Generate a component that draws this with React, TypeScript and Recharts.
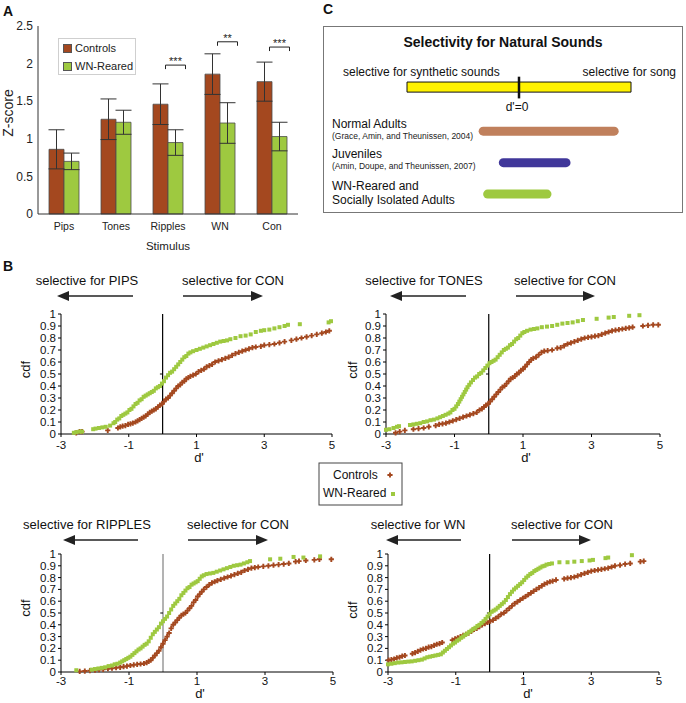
import React from "react";
import {
  Bar,
  ComposedChart,
  ErrorBar,
  LabelList,
  Legend,
  Line,
  ReferenceArea,
  ReferenceLine,
  Scatter,
  ScatterChart,
  XAxis,
  YAxis
} from "recharts";

const FONT = "'Liberation Sans', Arial, Helvetica, sans-serif";
const BROWN = "#a4481f";
const GREEN = "#9ec940";

// ---- panel A: mean z-scores ----
const stimuli = ["Pips", "Tones", "Ripples", "WN", "Con"];
const controlsZ = [0.86, 1.26, 1.46, 1.86, 1.76];
const controlsSem = [0.26, 0.27, 0.27, 0.27, 0.26];
const rearedZ = [0.7, 1.22, 0.95, 1.21, 1.03];
const rearedSem = [0.11, 0.16, 0.17, 0.27, 0.19];
const sigStars = ["", "", "***", "**", "***"];
const sigLevel = [0, 0, 1.98, 2.29, 2.22];
const zTicks = [0, 0.5, 1, 1.5, 2, 2.5];

// ---- panel B: cdf of d' (d', cdf) ----
const dTicks = [-3, -1, 1, 3, 5];
const cdfTicks = [0, 0.1, 0.2, 0.3, 0.4, 0.5, 0.6, 0.7, 0.8, 0.9, 1];

const pipsControls: [number, number][] = [
  [-2.55, 0.01], [-2.45, 0.02], [-2.38, 0.02], [-1.62, 0.03], [-1.32, 0.05], [-1.25, 0.06], [-1.18, 0.065],
  [-1.1, 0.07], [-1.02, 0.08], [-0.95, 0.085], [-0.88, 0.09], [-0.8, 0.1], [-0.74, 0.11], [-0.68, 0.12],
  [-0.62, 0.13], [-0.56, 0.14], [-0.5, 0.15], [-0.44, 0.165], [-0.38, 0.18], [-0.32, 0.19], [-0.26, 0.2],
  [-0.2, 0.21], [-0.14, 0.225], [-0.08, 0.24], [-0.02, 0.25], [0.04, 0.27], [0.1, 0.29], [0.16, 0.3],
  [0.22, 0.32], [0.28, 0.34], [0.34, 0.36], [0.4, 0.38], [0.46, 0.4], [0.52, 0.41], [0.58, 0.43],
  [0.64, 0.44], [0.7, 0.46], [0.76, 0.47], [0.82, 0.48], [0.9, 0.49], [0.98, 0.5], [1.06, 0.52],
  [1.14, 0.53], [1.22, 0.54], [1.3, 0.56], [1.38, 0.57], [1.46, 0.58], [1.55, 0.6], [1.65, 0.61],
  [1.75, 0.62], [1.85, 0.63], [1.95, 0.64], [2.05, 0.655], [2.15, 0.67], [2.25, 0.68], [2.35, 0.69],
  [2.45, 0.7], [2.55, 0.71], [2.65, 0.72], [2.75, 0.725], [2.9, 0.73], [3.0, 0.74], [3.15, 0.745],
  [3.3, 0.75], [3.45, 0.76], [3.6, 0.77], [3.8, 0.78], [3.95, 0.79], [4.1, 0.8], [4.25, 0.81],
  [4.4, 0.82], [4.55, 0.83], [4.7, 0.84], [4.82, 0.85], [4.92, 0.86]
];
const pipsReared: [number, number][] = [
  [-2.62, 0.01], [-2.55, 0.015], [-2.45, 0.02], [-2.38, 0.02], [-2.05, 0.04], [-1.98, 0.045], [-1.88, 0.05],
  [-1.78, 0.055], [-1.68, 0.06], [-1.55, 0.07], [-1.45, 0.09], [-1.4, 0.1], [-1.34, 0.12], [-1.28, 0.13],
  [-1.22, 0.15], [-1.16, 0.16], [-1.1, 0.17], [-1.04, 0.18], [-0.98, 0.2], [-0.92, 0.21], [-0.86, 0.23],
  [-0.8, 0.25], [-0.74, 0.26], [-0.68, 0.28], [-0.62, 0.29], [-0.56, 0.31], [-0.5, 0.32], [-0.44, 0.33],
  [-0.38, 0.34], [-0.32, 0.35], [-0.26, 0.36], [-0.2, 0.38], [-0.14, 0.39], [-0.08, 0.4], [-0.02, 0.42],
  [0.04, 0.44], [0.1, 0.47], [0.16, 0.49], [0.22, 0.51], [0.28, 0.52], [0.34, 0.54], [0.4, 0.56],
  [0.46, 0.58], [0.52, 0.6], [0.58, 0.62], [0.64, 0.64], [0.7, 0.65], [0.76, 0.67], [0.82, 0.68],
  [0.9, 0.69], [1.0, 0.7], [1.1, 0.71], [1.2, 0.72], [1.3, 0.73], [1.4, 0.74], [1.5, 0.75], [1.6, 0.76],
  [1.7, 0.77], [1.8, 0.775], [1.9, 0.78], [2.0, 0.79], [2.15, 0.8], [2.3, 0.815], [2.45, 0.82],
  [2.6, 0.83], [2.75, 0.85], [2.9, 0.86], [3.0, 0.865], [3.15, 0.87], [3.3, 0.88], [3.45, 0.89],
  [3.6, 0.9], [3.7, 0.91], [4.05, 0.915], [4.9, 0.93], [4.97, 0.94]
];
const tonesControls: [number, number][] = [
  [-2.72, 0.01], [-2.6, 0.02], [-2.45, 0.03], [-2.2, 0.04], [-2.05, 0.045], [-1.9, 0.05], [-1.75, 0.06],
  [-1.55, 0.07], [-1.45, 0.08], [-1.35, 0.085], [-1.25, 0.09], [-1.15, 0.1], [-1.05, 0.11], [-0.95, 0.12],
  [-0.85, 0.13], [-0.75, 0.14], [-0.65, 0.15], [-0.55, 0.16], [-0.45, 0.17], [-0.35, 0.18], [-0.27, 0.2],
  [-0.2, 0.21], [-0.14, 0.225], [-0.08, 0.24], [-0.02, 0.25], [0.04, 0.27], [0.1, 0.29], [0.16, 0.31],
  [0.22, 0.33], [0.28, 0.35], [0.34, 0.37], [0.4, 0.39], [0.46, 0.4], [0.52, 0.42], [0.58, 0.44],
  [0.64, 0.46], [0.7, 0.47], [0.76, 0.48], [0.82, 0.5], [0.88, 0.51], [0.94, 0.53], [1.0, 0.54],
  [1.06, 0.56], [1.12, 0.58], [1.18, 0.6], [1.24, 0.62], [1.3, 0.63], [1.38, 0.64], [1.46, 0.66],
  [1.54, 0.68], [1.62, 0.69], [1.72, 0.695], [1.85, 0.7], [2.0, 0.715], [2.1, 0.72], [2.2, 0.735],
  [2.3, 0.75], [2.4, 0.76], [2.5, 0.77], [2.6, 0.78], [2.7, 0.79], [2.8, 0.8], [2.9, 0.805], [3.0, 0.81],
  [3.1, 0.815], [3.2, 0.82], [3.3, 0.83], [3.4, 0.84], [3.5, 0.85], [3.6, 0.86], [3.7, 0.865],
  [3.8, 0.87], [3.9, 0.875], [4.0, 0.88], [4.1, 0.885], [4.2, 0.89], [4.5, 0.9], [4.65, 0.905],
  [4.8, 0.91], [4.95, 0.91]
];
const tonesReared: [number, number][] = [
  [-3.0, 0.035], [-2.9, 0.04], [-2.78, 0.05], [-2.68, 0.06], [-2.62, 0.065], [-2.3, 0.075], [-2.2, 0.08],
  [-2.1, 0.085], [-2.0, 0.09], [-1.9, 0.1], [-1.8, 0.105], [-1.7, 0.115], [-1.6, 0.12], [-1.5, 0.13],
  [-1.42, 0.14], [-1.34, 0.15], [-1.26, 0.16], [-1.18, 0.17], [-1.12, 0.18], [-1.06, 0.2], [-1.0, 0.21],
  [-0.95, 0.23], [-0.9, 0.25], [-0.86, 0.27], [-0.82, 0.29], [-0.78, 0.31], [-0.74, 0.33], [-0.7, 0.35],
  [-0.66, 0.37], [-0.62, 0.39], [-0.57, 0.41], [-0.52, 0.43], [-0.46, 0.45], [-0.4, 0.47], [-0.34, 0.48],
  [-0.28, 0.5], [-0.22, 0.51], [-0.16, 0.53], [-0.1, 0.55], [-0.04, 0.57], [0.02, 0.59], [0.08, 0.6],
  [0.14, 0.61], [0.2, 0.62], [0.26, 0.64], [0.32, 0.66], [0.38, 0.68], [0.44, 0.7], [0.5, 0.71],
  [0.56, 0.72], [0.62, 0.74], [0.68, 0.75], [0.74, 0.77], [0.8, 0.79], [0.86, 0.8], [0.92, 0.82],
  [0.98, 0.84], [1.04, 0.85], [1.12, 0.86], [1.22, 0.87], [1.32, 0.875], [1.42, 0.88], [1.55, 0.89],
  [1.7, 0.895], [1.85, 0.9], [2.0, 0.91], [2.15, 0.92], [2.3, 0.925], [2.45, 0.93], [2.6, 0.94],
  [2.75, 0.95], [3.15, 0.96], [3.5, 0.97], [3.65, 0.975], [4.1, 0.985], [4.4, 0.99]
];
const ripplesControls: [number, number][] = [
  [-2.45, 0.005], [-2.3, 0.008], [-2.15, 0.012], [-2.0, 0.015], [-1.88, 0.02], [-1.76, 0.022], [-1.62, 0.028],
  [-1.5, 0.032], [-1.38, 0.036], [-1.26, 0.04], [-1.16, 0.045], [-1.06, 0.05], [-0.96, 0.055], [-0.86, 0.06],
  [-0.76, 0.065], [-0.66, 0.068], [-0.56, 0.072], [-0.48, 0.08], [-0.42, 0.09], [-0.36, 0.1], [-0.3, 0.12],
  [-0.24, 0.14], [-0.18, 0.16], [-0.12, 0.18], [-0.06, 0.21], [0.0, 0.24], [0.06, 0.27], [0.12, 0.3],
  [0.18, 0.33], [0.24, 0.37], [0.3, 0.4], [0.36, 0.42], [0.42, 0.44], [0.48, 0.46], [0.54, 0.48],
  [0.6, 0.49], [0.66, 0.5], [0.72, 0.52], [0.78, 0.54], [0.84, 0.56], [0.9, 0.59], [0.96, 0.61],
  [1.02, 0.64], [1.08, 0.66], [1.14, 0.68], [1.2, 0.7], [1.28, 0.72], [1.36, 0.74], [1.44, 0.755],
  [1.52, 0.765], [1.6, 0.775], [1.7, 0.785], [1.8, 0.795], [1.9, 0.805], [2.0, 0.815], [2.1, 0.825],
  [2.2, 0.835], [2.3, 0.845], [2.4, 0.86], [2.5, 0.87], [2.6, 0.88], [2.7, 0.885], [2.8, 0.89],
  [2.95, 0.895], [3.1, 0.9], [3.25, 0.905], [3.4, 0.91], [3.55, 0.915], [3.7, 0.92], [3.9, 0.935],
  [4.0, 0.94], [4.2, 0.945], [4.45, 0.95], [4.6, 0.955], [4.95, 0.955]
];
const ripplesReared: [number, number][] = [
  [-2.55, 0.015], [-2.1, 0.02], [-2.0, 0.025], [-1.9, 0.03], [-1.8, 0.035], [-1.7, 0.04], [-1.6, 0.05],
  [-1.5, 0.055], [-1.42, 0.065], [-1.34, 0.07], [-1.26, 0.08], [-1.2, 0.09], [-1.14, 0.1], [-1.08, 0.11],
  [-1.02, 0.12], [-0.96, 0.13], [-0.9, 0.145], [-0.84, 0.16], [-0.78, 0.175], [-0.72, 0.19], [-0.66, 0.2],
  [-0.6, 0.215], [-0.54, 0.23], [-0.48, 0.24], [-0.42, 0.26], [-0.36, 0.29], [-0.3, 0.32], [-0.24, 0.34],
  [-0.18, 0.36], [-0.12, 0.38], [-0.06, 0.41], [0.0, 0.43], [0.06, 0.45], [0.12, 0.47], [0.18, 0.5],
  [0.24, 0.53], [0.3, 0.56], [0.36, 0.58], [0.42, 0.6], [0.48, 0.62], [0.54, 0.65], [0.6, 0.67],
  [0.66, 0.69], [0.72, 0.71], [0.78, 0.72], [0.84, 0.74], [0.9, 0.75], [0.96, 0.76], [1.02, 0.77],
  [1.08, 0.79], [1.14, 0.81], [1.2, 0.82], [1.28, 0.83], [1.38, 0.835], [1.48, 0.84], [1.58, 0.85],
  [1.68, 0.86], [1.78, 0.87], [1.88, 0.88], [1.98, 0.89], [2.08, 0.9], [2.18, 0.905], [2.28, 0.91],
  [2.38, 0.92], [2.48, 0.93], [2.56, 0.94], [3.15, 0.955], [3.45, 0.96], [3.84, 0.975], [4.13, 0.97],
  [4.62, 0.98]
];
const wnControls: [number, number][] = [
  [-2.98, 0.1], [-2.9, 0.105], [-2.82, 0.11], [-2.74, 0.12], [-2.66, 0.125], [-2.58, 0.135], [-2.5, 0.14],
  [-2.28, 0.155], [-2.2, 0.165], [-2.12, 0.175], [-2.04, 0.185], [-1.96, 0.195], [-1.88, 0.2], [-1.8, 0.21],
  [-1.72, 0.215], [-1.64, 0.225], [-1.56, 0.235], [-1.48, 0.24], [-1.4, 0.25], [-1.1, 0.27], [-1.02, 0.28],
  [-0.94, 0.29], [-0.86, 0.3], [-0.78, 0.31], [-0.7, 0.32], [-0.62, 0.33], [-0.54, 0.345], [-0.46, 0.36],
  [-0.38, 0.37], [-0.3, 0.385], [-0.22, 0.4], [-0.14, 0.41], [-0.06, 0.42], [0.02, 0.43], [0.1, 0.44],
  [0.18, 0.455], [0.26, 0.47], [0.34, 0.49], [0.42, 0.5], [0.5, 0.52], [0.58, 0.54], [0.66, 0.56],
  [0.74, 0.58], [0.82, 0.595], [0.9, 0.61], [0.98, 0.625], [1.06, 0.64], [1.14, 0.655], [1.22, 0.67],
  [1.3, 0.685], [1.38, 0.7], [1.46, 0.715], [1.54, 0.73], [1.62, 0.745], [1.7, 0.755], [1.78, 0.765],
  [1.86, 0.77], [1.96, 0.78], [2.2, 0.79], [2.3, 0.795], [2.4, 0.8], [2.5, 0.805], [2.6, 0.815],
  [2.7, 0.825], [2.8, 0.835], [2.9, 0.845], [3.0, 0.855], [3.1, 0.86], [3.2, 0.865], [3.3, 0.87],
  [3.4, 0.875], [3.5, 0.88], [3.6, 0.89], [3.7, 0.9], [3.85, 0.905], [4.0, 0.915], [4.15, 0.92],
  [4.45, 0.935], [4.55, 0.94]
];
const wnReared: [number, number][] = [
  [-3.0, 0.065], [-2.9, 0.07], [-2.8, 0.075], [-2.7, 0.08], [-2.6, 0.082], [-2.5, 0.085], [-2.4, 0.088],
  [-2.3, 0.09], [-2.2, 0.095], [-2.1, 0.1], [-2.0, 0.105], [-1.92, 0.115], [-1.84, 0.125], [-1.76, 0.13],
  [-1.68, 0.135], [-1.6, 0.14], [-1.52, 0.145], [-1.44, 0.15], [-1.38, 0.165], [-1.32, 0.18], [-1.26, 0.195],
  [-1.2, 0.21], [-1.14, 0.225], [-1.08, 0.24], [-1.02, 0.25], [-0.96, 0.265], [-0.9, 0.275], [-0.84, 0.29],
  [-0.78, 0.3], [-0.72, 0.315], [-0.66, 0.325], [-0.6, 0.34], [-0.54, 0.35], [-0.48, 0.365], [-0.42, 0.375],
  [-0.36, 0.39], [-0.3, 0.4], [-0.24, 0.415], [-0.18, 0.43], [-0.12, 0.45], [-0.06, 0.47], [0.0, 0.49],
  [0.06, 0.51], [0.12, 0.52], [0.18, 0.53], [0.24, 0.545], [0.3, 0.56], [0.36, 0.575], [0.42, 0.59],
  [0.48, 0.61], [0.54, 0.635], [0.6, 0.66], [0.66, 0.68], [0.72, 0.7], [0.78, 0.715], [0.84, 0.73],
  [0.9, 0.745], [0.96, 0.76], [1.02, 0.78], [1.08, 0.8], [1.14, 0.815], [1.2, 0.83], [1.26, 0.84],
  [1.32, 0.855], [1.38, 0.865], [1.44, 0.875], [1.5, 0.885], [1.56, 0.895], [1.62, 0.9], [1.68, 0.91],
  [1.76, 0.915], [1.84, 0.92], [2.06, 0.93], [2.3, 0.93], [2.5, 0.935], [2.72, 0.94], [2.95, 0.945],
  [3.05, 0.95], [3.42, 0.965], [3.5, 0.97], [4.2, 0.99]
];
const leftLabels = ["selective for PIPS", "selective for TONES", "selective for RIPPLES", "selective for WN"];
const rightLabel = "selective for CON";

// ---- panel C: selectivity ranges ----
const cGroups = ["Normal Adults", "Juveniles", "WN-Reared and Socially Isolated Adults"];
const cFrom = [-0.32, -0.14, -0.28];
const cTo = [0.85, 0.42, 0.25];
const cRow = [1.4, 2.4, 3.4];
const cColors = ["#c0805c", "#40379a", "#9ec940"];

const barData = stimuli.map((name, i) => ({
  name,
  controls: controlsZ[i],
  controlsErr: controlsSem[i],
  reared: rearedZ[i],
  rearedErr: rearedSem[i]
}));

const toPoints = (pts: [number, number][]) => pts.map(([x, y]) => ({ x, y }));

const PlusMark = ({ cx, cy }: { cx?: number; cy?: number }) =>
  cx == null || cy == null ? null : (
    <path d={`M${cx - 2.6},${cy}H${cx + 2.6}M${cx},${cy - 2.6}V${cy + 2.6}`} stroke={BROWN} strokeWidth={1.9} />
  );
const SquareMark = ({ cx, cy }: { cx?: number; cy?: number }) =>
  cx == null || cy == null ? null : <rect x={cx - 2} y={cy - 2} width={4} height={4} fill={GREEN} />;

const renderSig = (props: any) => {
  const vb = props.viewBox && props.viewBox.height != null ? props.viewBox : props;
  const { x, y, width, height } = vb;
  const value = Number(props.value);
  const index = props.index ?? rearedZ.indexOf(value);
  const stars = sigStars[index];
  if (!stars || !height) return null;
  const perUnit = height / value;
  const by = y + height - sigLevel[index] * perUnit;
  const cx = x + width / 2;
  return (
    <g>
      <path d={`M${cx - 10},${by + 4}V${by}H${cx + 10}V${by + 4}`} fill="none" stroke="#222" strokeWidth={1} />
      <text x={cx} y={by} textAnchor="middle" fontSize={11} fontFamily={FONT} fill="#222">
        {stars}
      </text>
    </g>
  );
};

const renderLegendA = (props: any) => {
  const items = (props.payload || []).filter((p: any) => p.value === "Controls" || p.value === "WN-Reared");
  return (
    <div
      style={{
        width: 78,
        height: 37,
        boxSizing: "border-box",
        border: "1px solid #cfcfcf",
        background: "#fff",
        fontFamily: FONT,
        fontSize: 11,
        color: "#222",
        whiteSpace: "nowrap",
        overflow: "hidden"
      }}
    >
      {items.map((p: any) => (
        <div key={p.value} style={{ display: "flex", alignItems: "center", height: 18 }}>
          <span
            style={{
              display: "inline-block",
              flex: "none",
              width: 7,
              height: 7,
              marginLeft: 4,
              marginRight: 3,
              background: p.color,
              border: "1px solid #555"
            }}
          />
          {p.value}
        </div>
      ))}
    </div>
  );
};

const bLayout = [
  { l: 61, t: 314, w: 271, h: 120, lt: 87, rt: 233, ty: 285, ay: 296, la: [133, 57], ra: [183, 263], cdf: [25, 369.5], dp: [199, 462], zero: "#000", tm: 4 },
  { l: 386, t: 314, w: 274, h: 120, lt: 424, rt: 565, ty: 285, ay: 296, la: [466, 390], ra: [516, 595], cdf: [352, 370], dp: [526, 462], zero: "#000", tm: 4 },
  { l: 61, t: 554, w: 272, h: 118, lt: 87, rt: 238, ty: 529, ay: 540, la: [138, 63], ra: [188, 268], cdf: [25, 608], dp: [200, 698], zero: "#808080", tm: 2 },
  { l: 388, t: 554, w: 271, h: 118, lt: 418, rt: 562, ty: 529, ay: 540, la: [461, 386], ra: [512, 591], cdf: [352, 610], dp: [528, 698], zero: "#000", tm: 2 }
];
const bSeries = [
  [pipsControls, pipsReared],
  [tonesControls, tonesReared],
  [ripplesControls, ripplesReared],
  [wnControls, wnReared]
];

function CdfPlot({ idx }: { idx: number }) {
  const g = bLayout[idx];
  const [ctl, wn] = bSeries[idx];
  const tickStyle = { fontSize: 11.5, fill: "#111", fontFamily: FONT };
  return (
    <div style={{ position: "absolute", left: g.l - 40, top: g.t - 8 }}>
      <ScatterChart width={40 + g.w + 8} height={8 + g.h + 20} margin={{ top: 8, right: 8, bottom: 0, left: 0 }}>
        <XAxis
          type="number"
          dataKey="x"
          domain={[-3, 5]}
          ticks={dTicks}
          interval={0}
          height={20}
          tickSize={3}
          tickMargin={g.tm}
          stroke="#000"
          tick={tickStyle}
        />
        <YAxis
          type="number"
          dataKey="y"
          domain={[0, 1]}
          ticks={cdfTicks}
          interval={0}
          width={40}
          tickSize={3}
          tickMargin={2}
          stroke="#000"
          tick={tickStyle}
        />
        <ReferenceLine x={0} stroke={g.zero} strokeWidth={1.2} />
        <ReferenceLine segment={[{ x: -0.08, y: 0.5 }, { x: 0, y: 0.5 }]} stroke="#000" />
        <Scatter data={toPoints(ctl)} shape={<PlusMark />} isAnimationActive={false} />
        <Scatter data={toPoints(wn)} shape={<SquareMark />} isAnimationActive={false} />
      </ScatterChart>
    </div>
  );
}

function Arrow({ x1, x2, y }: { x1: number; x2: number; y: number }) {
  const dir = Math.sign(x2 - x1);
  return (
    <g>
      <line x1={x1} y1={y} x2={x2 - dir * 8} y2={y} stroke="#222" strokeWidth={1.6} />
      <polygon points={`${x2},${y} ${x2 - dir * 12},${y - 5} ${x2 - dir * 12},${y + 5}`} fill="#222" />
    </g>
  );
}

export default function App() {
  return (
    <div
      style={{
        position: "absolute",
        left: 0,
        top: 0,
        width: 686,
        height: 703,
        overflow: "hidden",
        background: "#fff",
        fontFamily: FONT
      }}
    >
      {/* Panel A */}
      <div style={{ position: "absolute", left: 8, top: 16 }}>
        <ComposedChart
          width={300}
          height={228}
          data={barData}
          margin={{ top: 10, right: 10, bottom: 0, left: 0 }}
          barGap={0}
          barSize={15}
        >
          <XAxis
            dataKey="name"
            height={30}
            interval={0}
            tickLine={false}
            tickSize={0}
            tickMargin={9}
            stroke="#333"
            tick={{ fontSize: 10.5, fill: "#222", fontFamily: FONT }}
          />
          <XAxis xAxisId="top" dataKey="name" orientation="top" height={0} tick={false} tickLine={false} stroke="#333" />
          <YAxis
            domain={[0, 2.5]}
            ticks={zTicks}
            interval={0}
            width={30}
            tickLine={false}
            tickSize={0}
            tickMargin={5}
            stroke="#333"
            tick={{ fontSize: 12, fill: "#222", fontFamily: FONT }}
          />
          <YAxis yAxisId="right" orientation="right" domain={[0, 2.5]} width={0} tick={false} tickLine={false} stroke="#333" />
          <Legend
            layout="vertical"
            align="center"
            verticalAlign="middle"
            content={renderLegendA}
            wrapperStyle={{ left: 50, top: 22, width: 78, height: 37 }}
          />
          <Bar dataKey="controls" name="Controls" fill={BROWN} stroke="#4d4d4d" strokeWidth={0.8} isAnimationActive={false}>
            <ErrorBar dataKey="controlsErr" width={8} stroke="#333" strokeWidth={1} direction="y" />
          </Bar>
          <Bar dataKey="reared" name="WN-Reared" fill={GREEN} stroke="#4d4d4d" strokeWidth={0.8} isAnimationActive={false}>
            <ErrorBar dataKey="rearedErr" width={8} stroke="#333" strokeWidth={1} direction="y" />
            <LabelList dataKey="reared" content={renderSig} />
          </Bar>
        </ComposedChart>
      </div>

      {/* Panel C */}
      <div
        style={{
          position: "absolute",
          left: 323,
          top: 26,
          width: 360,
          height: 187,
          boxSizing: "border-box",
          border: "1px solid #777"
        }}
      />
      <div style={{ position: "absolute", left: 323, top: 26 }}>
        <ComposedChart width={364} height={187} margin={{ top: 0, right: 0, bottom: 0, left: 0 }}>
          <XAxis type="number" dataKey="x" domain={[-1.75, 1.5]} hide allowDataOverflow />
          <YAxis type="number" dataKey="y" domain={[-1.94, 4.0]} reversed hide allowDataOverflow />
          <ReferenceArea x1={-1} x2={1} y1={-0.16} y2={0.16} fill="#fff200" fillOpacity={1} stroke="#111" strokeWidth={1} />
          <ReferenceLine segment={[{ x: 0, y: -0.33 }, { x: 0, y: 0.36 }]} stroke="#111" strokeWidth={2.5} />
          {cGroups.map((g, i) => (
            <Line
              key={g}
              data={[
                { x: cFrom[i], y: cRow[i] },
                { x: cTo[i], y: cRow[i] }
              ]}
              dataKey="y"
              stroke={cColors[i]}
              strokeWidth={9}
              strokeLinecap="round"
              dot={false}
              isAnimationActive={false}
            />
          ))}
        </ComposedChart>
      </div>

      {/* Panel B */}
      {bLayout.map((_, i) => (
        <CdfPlot key={i} idx={i} />
      ))}

      {/* Annotations */}
      <svg width={686} height={703} style={{ position: "absolute", left: 0, top: 0, pointerEvents: "none" }} fontFamily={FONT}>
        <text x={3} y={16} fontSize={14} fontWeight="bold" fill="#111">A</text>
        <text x={3} y={271} fontSize={14} fontWeight="bold" fill="#111">B</text>
        <text x={323} y={14} fontSize={14} fontWeight="bold" fill="#111">C</text>

        <text transform="translate(8,113) rotate(-90)" textAnchor="middle" dominantBaseline="central" fontSize={14} fill="#222">
          Z-score
        </text>
        <text x={168} y={249.5} textAnchor="middle" fontSize={11.5} fill="#222">Stimulus</text>

        <text x={503} y={47} textAnchor="middle" fontSize={14} fontWeight="bold" fill="#111">
          Selectivity for Natural Sounds
        </text>
        <text x={343} y={76} fontSize={12} fill="#111">selective for synthetic sounds</text>
        <text x={676} y={76} textAnchor="end" fontSize={12} fill="#111">selective for song</text>
        <text x={517} y={111} textAnchor="middle" fontSize={12} fill="#111">d'=0</text>
        <text x={332} y={128} fontSize={12} fill="#111">{cGroups[0]}</text>
        <text x={332} y={139} fontSize={8.5} fill="#222">(Grace, Amin, and Theunissen, 2004)</text>
        <text x={332} y={158} fontSize={12} fill="#111">{cGroups[1]}</text>
        <text x={332} y={169} fontSize={8.5} fill="#222">(Amin, Doupe, and Theunissen, 2007)</text>
        <text x={332} y={190} fontSize={12} fill="#111">WN-Reared and</text>
        <text x={332} y={204} fontSize={12} fill="#111">Socially Isolated Adults</text>

        {bLayout.map((g, i) => (
          <g key={i}>
            <text x={g.lt} y={g.ty} textAnchor="middle" fontSize={13} fill="#111">{leftLabels[i]}</text>
            <text x={g.rt} y={g.ty} textAnchor="middle" fontSize={13} fill="#111">{rightLabel}</text>
            <Arrow x1={g.la[0]} x2={g.la[1]} y={g.ay} />
            <Arrow x1={g.ra[0]} x2={g.ra[1]} y={g.ay} />
            <text
              transform={`translate(${g.cdf[0]},${g.cdf[1]}) rotate(-90)`}
              textAnchor="middle"
              dominantBaseline="central"
              fontSize={13}
              fill="#111"
            >
              cdf
            </text>
            <text x={g.dp[0]} y={g.dp[1]} textAnchor="middle" fontSize={13} fill="#111">d'</text>
          </g>
        ))}

        <rect x={319} y={463} width={83} height={42} fill="#fff" stroke="#444" strokeWidth={1} />
        <text x={333} y={478.5} fontSize={12} fill="#111">Controls</text>
        <PlusMark cx={390} cy={475} />
        <text x={323} y={497.3} fontSize={12} fill="#111">WN-Reared</text>
        <SquareMark cx={393} cy={494} />
      </svg>
    </div>
  );
}
